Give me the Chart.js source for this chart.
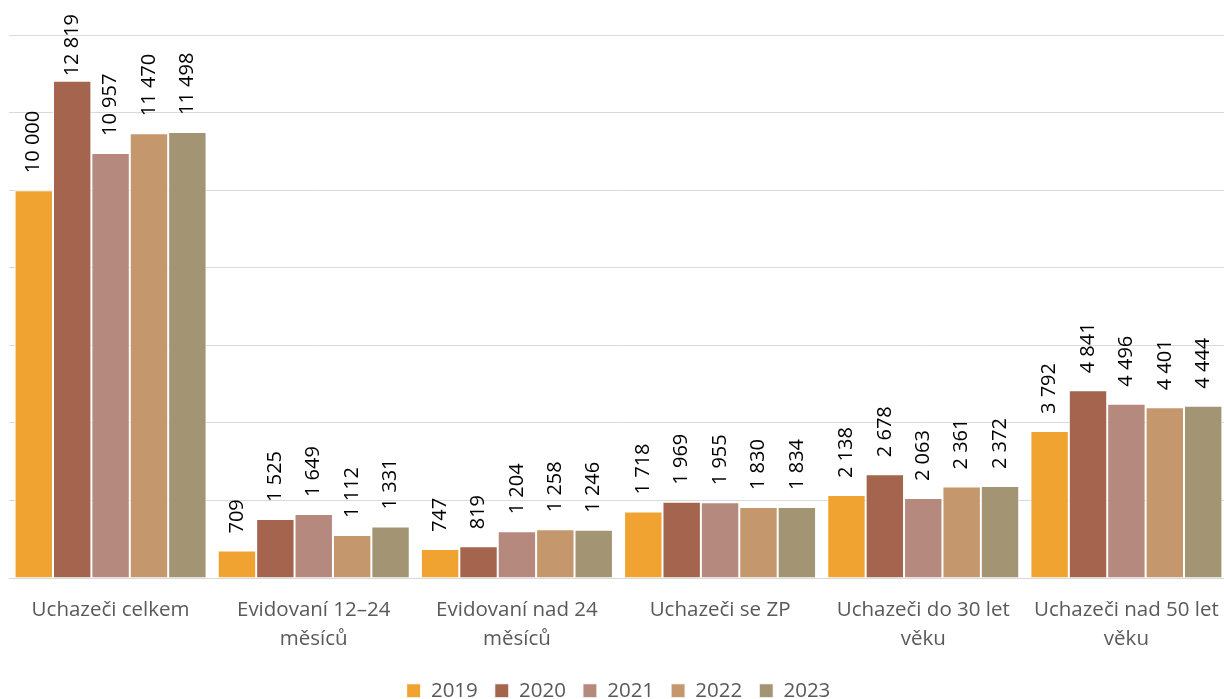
<!DOCTYPE html>
<html>
<head>
<meta charset="utf-8">
<script src="https://cdn.jsdelivr.net/npm/chart.js@4"></script>
<style>
    html, body { margin: 0; padding: 0; background: #fff; overflow: hidden; }
    #wrap { width: 1232px; height: 711px; }
</style>
</head>
<body>
<div id="wrap"><canvas id="chart"></canvas></div>
<script>
// Data
const categories = [
    ["Uchazeči celkem"],
    ["Evidovaní 12–24", "měsíců"],
    ["Evidovaní nad 24", "měsíců"],
    ["Uchazeči se ZP"],
    ["Uchazeči do 30 let", "věku"],
    ["Uchazeči nad 50 let", "věku"]
];
const years = ["2019", "2020", "2021", "2022", "2023"];
const values2019 = [10000, 709, 747, 1718, 2138, 3792];
const values2020 = [12819, 1525, 819, 1969, 2678, 4841];
const values2021 = [10957, 1649, 1204, 1955, 2063, 4496];
const values2022 = [11470, 1112, 1258, 1830, 2361, 4401];
const values2023 = [11498, 1331, 1246, 1834, 2372, 4444];
const colors = ["#F0A330", "#A5644E", "#B5897E", "#C4976C", "#A39573"];

const fontFamily = "'Open Sans', 'Noto Sans', sans-serif";

function fmt(v) {
    return String(v).replace(/\B(?=(\d{3})+(?!\d))/g, " ");
}

// Rotated value labels above each bar (kept inside the canvas like Excel does)
const valueLabels = {
    id: "valueLabels",
    afterDatasetsDraw(chart) {
        const ctx = chart.ctx;
        ctx.save();
        ctx.font = "20px " + fontFamily;
        ctx.fillStyle = "#000";
        ctx.textAlign = "left";
        ctx.textBaseline = "middle";
        chart.data.datasets.forEach((ds, i) => {
            chart.getDatasetMeta(i).data.forEach((bar, j) => {
                const txt = fmt(ds.data[j]);
                const w = ctx.measureText(txt).width;
                const start = Math.min(Math.max(bar.y - 17, 14 + w), bar.y - 3);
                ctx.save();
                ctx.translate(bar.x, start);
                ctx.rotate(-Math.PI / 2);
                ctx.fillText(txt, 0, 0);
                ctx.restore();
            });
        });
        ctx.restore();
    }
};

const allValues = [values2019, values2020, values2021, values2022, values2023];

new Chart(document.querySelector("#chart"), {
    type: "bar",
    data: {
        labels: categories,
        datasets: years.map((y, i) => ({
            label: y,
            data: allValues[i],
            backgroundColor: colors[i],
            borderColor: "#ffffff",
            borderWidth: 1,
            categoryPercentage: 0.945,
            barPercentage: 1
        }))
    },
    options: {
        responsive: true,
        maintainAspectRatio: false,
        animation: false,
        layout: { padding: { top: 35, left: 9, right: 4, bottom: 0 } },
        scales: {
            x: {
                grid: { display: false },
                border: { display: false },
                ticks: {
                    color: "#595959",
                    font: { family: fontFamily, size: 20.5, lineHeight: 1.45 },
                    padding: 9,
                    maxRotation: 0
                }
            },
            y: {
                min: 0,
                max: 14000,
                ticks: { display: false, stepSize: 2000 },
                grid: { color: "#d9d9d9", drawTicks: false },
                border: { display: false }
            }
        },
        plugins: {
            legend: {
                position: "bottom",
                labels: {
                    color: "#595959",
                    font: { family: fontFamily, size: 20.5 },
                    boxWidth: 14,
                    boxHeight: 14,
                    padding: 17
                }
            },
            tooltip: { enabled: false }
        }
    },
    plugins: [valueLabels]
});
</script>
</body>
</html>
